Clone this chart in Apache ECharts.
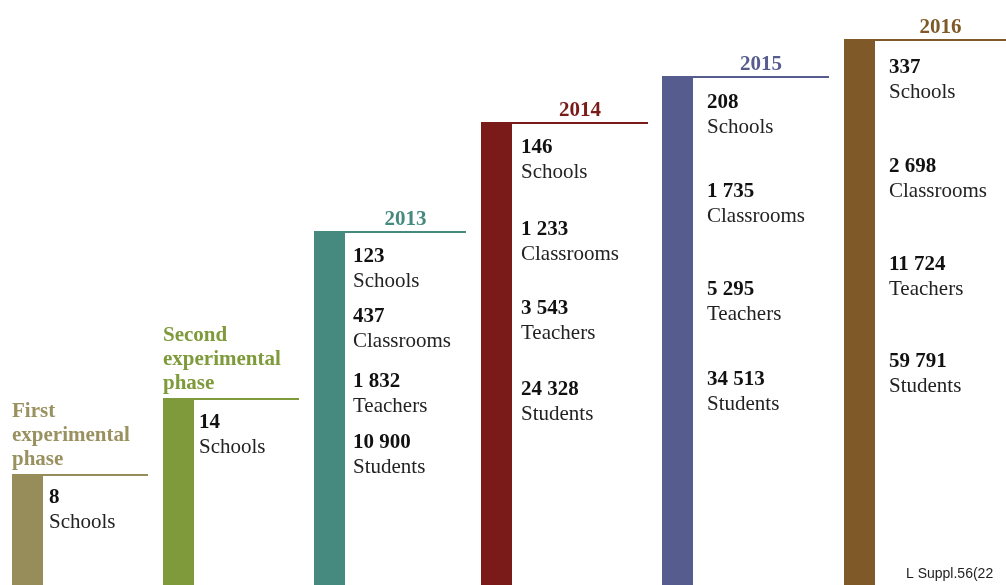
<!DOCTYPE html>
<html>
<head>
<meta charset="utf-8">
<script src="https://cdn.jsdelivr.net/npm/echarts@6/dist/echarts.min.js"></script>
<style>
html,body{margin:0;padding:0;background:#fff;}
#chart{width:1006px;height:585px;}
</style>
</head>
<body>
<div id="chart"></div>
<script>
// ---- data ----
const phases = ['First\nexperimental\nphase', 'Second\nexperimental\nphase', '2013', '2014', '2015', '2016'];
const levels = [110, 186, 353, 462, 508, 545]; // stair heights
const schools = [8, 14, 123, 146, 208, 337];
const classrooms = [null, null, 437, 1233, 1735, 2698];
const teachers = [null, null, 1832, 3543, 5295, 11724];
const students = [null, null, 10900, 24328, 34513, 59791];
const itemLabels = ['Schools', 'Classrooms', 'Teachers', 'Students'];
const footnote = 'L Suppl.56(22';

// ---- layout / style ----
const barLeft = [12, 163, 314, 481, 662, 844];
const lineRight = [148, 299, 466, 648, 829, 1006];
const textLeft = [49, 199, 353, 521, 707, 889];
const itemOffsets = [
  [21], [22],
  [23, 83, 148, 209],
  [23, 105, 184, 265],
  [24, 113, 211, 301],
  [26, 125, 223, 320]
];
const TEXT_SHIFT = 2;
const colors = ['#968D5A', '#7E9A3B', '#46897F', '#7A1A19', '#575C8E', '#7F5A28'];
const titleColors = ['#9A9160', '#7E9A3B', '#46897F', '#7A1A19', '#575C8E', '#7F5A28'];
const BAR_W = 31;
const SERIF = '"Liberation Serif", "Times New Roman", serif';

function fmt(n) {
  return String(n).replace(/\B(?=(\d{3})+(?!\d))/g, ' ');
}

const chart = echarts.init(document.getElementById('chart'));
const seriesData = phases.map((p, i) => [barLeft[i], levels[i]]);

chart.setOption({
  animation: false,
  grid: { left: 0, right: 0, top: 0, bottom: 0 },
  xAxis: { type: 'value', min: 0, max: 1006, show: false },
  yAxis: { type: 'value', min: 0, max: 585, show: false },
  series: [{
    type: 'custom',
    data: seriesData,
    clip: false,
    renderItem: function (params, api) {
      const i = params.dataIndex;
      const tl = api.coord([api.value(0), api.value(1)]);
      const br = api.coord([api.value(0) + BAR_W, 0]);
      const lr = api.coord([lineRight[i], api.value(1)]);
      const top = tl[1];
      const children = [];
      children.push({
        type: 'rect',
        shape: { x: tl[0], y: top, width: br[0] - tl[0], height: br[1] - top },
        style: { fill: colors[i] }
      });
      children.push({
        type: 'line',
        shape: { x1: tl[0], y1: top, x2: lr[0], y2: top },
        style: { stroke: colors[i], lineWidth: 2 }
      });
      const multi = phases[i].indexOf('\n') >= 0;
      if (multi) {
        children.push({
          type: 'text',
          style: {
            text: phases[i], x: tl[0], y: top - 3,
            font: 'bold 21px ' + SERIF, fill: titleColors[i],
            align: 'left', verticalAlign: 'bottom', lineHeight: 24
          }
        });
      } else {
        children.push({
          type: 'text',
          style: {
            text: phases[i], x: (br[0] + lr[0]) / 2, y: top - 12,
            font: 'bold 21px ' + SERIF, fill: titleColors[i],
            align: 'center', verticalAlign: 'middle'
          }
        });
      }
      const vals = [schools[i], classrooms[i], teachers[i], students[i]];
      const tx = api.coord([textLeft[i], 0])[0];
      vals.forEach((v, k) => {
        if (v === null) return;
        const y0 = top + itemOffsets[i][k] + TEXT_SHIFT;
        children.push({
          type: 'text',
          style: { text: fmt(v), x: tx, y: y0, font: 'bold 21px ' + SERIF, fill: '#111', align: 'left', verticalAlign: 'middle' }
        });
        children.push({
          type: 'text',
          style: { text: itemLabels[k], x: tx, y: y0 + 24, font: '21px ' + SERIF, fill: '#222', align: 'left', verticalAlign: 'middle' }
        });
      });
      return { type: 'group', children: children };
    }
  }],
  graphic: [{
    type: 'text', left: 906, top: 567,
    style: { text: footnote, font: '14px "Liberation Sans", Arial, sans-serif', fill: '#222' }
  }]
});
</script>
</body>
</html>
